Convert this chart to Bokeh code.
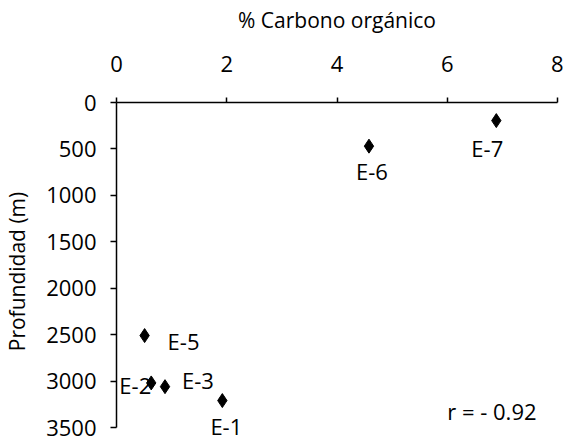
from bokeh.plotting import figure
from bokeh.models import Range1d, ColumnDataSource, LabelSet, Label, FixedTicker
from bokeh.core.properties import value
from bokeh.embed import file_html
from bokeh.resources import INLINE

# Data
stations = ["E-1", "E-2", "E-3", "E-5", "E-6", "E-7"]
carbon = [1.92, 0.63, 0.88, 0.51, 4.58, 6.89]          # % Carbono orgánico
depth = [3210, 3020, 3060, 2510, 470, 195]             # Profundidad (m)
x_ticks = [0, 2, 4, 6, 8]
y_ticks = [0, 500, 1000, 1500, 2000, 2500, 3000, 3500]
r_text = "r = - 0.92"

# label placement (screen offsets)
lbl_dx = [4, 0, 17, 23, 3, -9]
lbl_dy = [-25, -2, 7, -5, -25, -27]
lbl_align = ["center", "right", "left", "left", "center", "center"]

FONT = "Open Sans"
FS = "22px"

p = figure(width=563, height=440, output_backend="svg", toolbar_location=None,
           x_axis_location="above", y_axis_location="left",
           x_range=Range1d(0, 8), y_range=Range1d(3640, 0),
           min_border_left=109, min_border_right=6, min_border_top=102,
           min_border_bottom=0)
p.outline_line_color = None
p.grid.visible = False
p.background_fill_color = "white"
p.border_fill_color = "white"

for ax in (p.xaxis[0], p.yaxis[0]):
    ax.major_label_text_font = FONT
    ax.major_label_text_font_size = FS
    ax.major_label_text_color = "black"
    ax.axis_label_text_font = FONT
    ax.axis_label_text_font_size = "21px"
    ax.axis_label_text_font_style = "normal"
    ax.axis_label_text_color = "black"
    ax.axis_line_color = "black"
    ax.axis_line_width = 1.5
    ax.major_tick_line_color = "black"
    ax.major_tick_line_width = 1.5
    ax.minor_tick_line_color = None
    ax.major_tick_in = 0

p.xaxis.ticker = FixedTicker(ticks=x_ticks)
p.yaxis.ticker = FixedTicker(ticks=y_ticks)
p.xaxis.axis_label = "% Carbono orgánico"
p.yaxis.axis_label = "Profundidad (m)"
p.xaxis.major_tick_out = 5
p.yaxis.major_tick_out = 6
p.xaxis.major_label_standoff = 26
p.yaxis.major_label_standoff = 14
p.xaxis.axis_label_standoff = 19
p.yaxis.axis_label_standoff = 12
p.yaxis.bounds = (0, 3500)

src = ColumnDataSource(dict(x=carbon, y=depth, name=stations,
                            dx=lbl_dx, dy=lbl_dy, align=lbl_align))
p.scatter("x", "y", source=src, marker="diamond", size=14,
          fill_color="black", line_color="black")

labels = LabelSet(x="x", y="y", text="name", source=src,
                  x_offset="dx", y_offset="dy", text_align="align",
                  text_baseline="middle", text_font=value(FONT),
                  text_font_size=value(FS), text_color="black")
p.add_layout(labels)

p.add_layout(Label(x=6.0, y=3320, text=r_text, text_font=FONT,
                   text_font_size=FS, text_baseline="middle",
                   text_color="black"))

open("out.html", "w").write(file_html(p, INLINE))
